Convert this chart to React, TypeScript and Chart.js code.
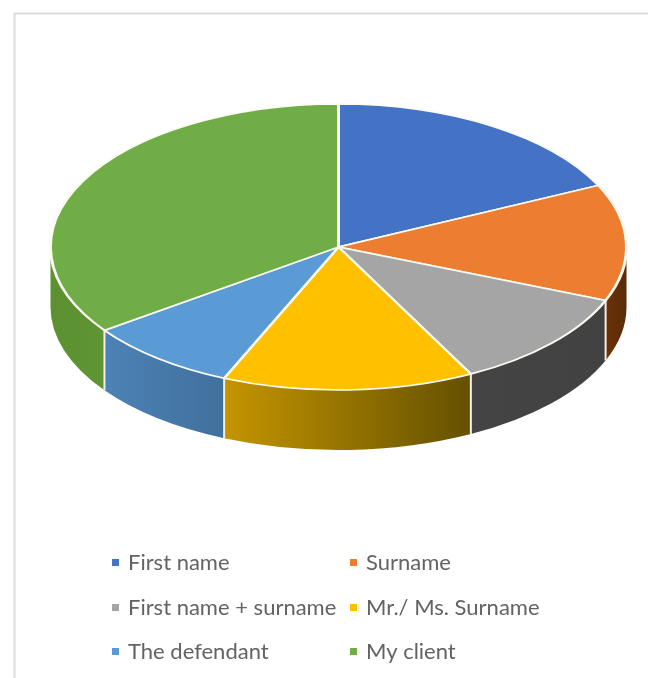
import React, { useEffect, useRef } from "react";
import { Chart, registerables } from "chart.js";

Chart.register(...registerables);

const categories = ["First name", "Surname", "First name + surname", "Mr./ Ms. Surname", "The defendant", "My client"];
const shares = [17.9, 13.2, 11.3, 14.1, 8.6, 34.9];
const topColors = ["#4472C4", "#ED7D31", "#A5A5A5", "#FFC000", "#5B9BD5", "#70AD47"];
const wallLeftColors = ["#2f5597", "#6b3208", "#444444", "#c49500", "#4c82b5", "#5c9030"];
const wallRightColors = ["#2f5597", "#5a2a08", "#424242", "#645000", "#41709c", "#5f9535"];

const CENTER_Y = 247;
const RADIUS_Y = 143;
const DEPTH = 60;

// Tilts the flat pie into an ellipse and gives it a lit rim below the top face.
const tiltedPie = {
  id: "tiltedPie",
  beforeDraw(chart: any) {
    const { ctx, width, height } = chart;
    ctx.save();
    ctx.fillStyle = "#ffffff";
    ctx.fillRect(0, 0, width, height);
    ctx.strokeStyle = "#dcdcdc";
    ctx.lineWidth = 2;
    ctx.beginPath();
    ctx.moveTo(14.5, height);
    ctx.lineTo(14.5, 13.5);
    ctx.lineTo(width, 13.5);
    ctx.stroke();
    ctx.restore();
  },
  beforeDatasetsDraw(chart: any) {
    const { ctx } = chart;
    const arcs = chart.getDatasetMeta(0).data;
    const { x, y, outerRadius } = arcs[0];
    const walls: number[] = [];
    arcs.forEach((arc: any, i: number) => {
      const a0 = Math.max(arc.startAngle, 0);
      const a1 = Math.min(arc.endAngle, Math.PI);
      if (a1 <= a0) return;
      const xa = x + outerRadius * Math.cos(a0);
      const xb = x + outerRadius * Math.cos(a1);
      const shade = ctx.createLinearGradient(xb, 0, xa, 0);
      shade.addColorStop(0, wallLeftColors[i]);
      shade.addColorStop(1, wallRightColors[i]);
      ctx.beginPath();
      ctx.ellipse(x, CENTER_Y, outerRadius, RADIUS_Y, 0, a0, a1);
      ctx.ellipse(x, CENTER_Y + DEPTH, outerRadius, RADIUS_Y, 0, a1, a0, true);
      ctx.closePath();
      ctx.fillStyle = shade;
      ctx.fill();
      if (arc.startAngle > 0) walls.push(arc.startAngle);
    });
    ctx.strokeStyle = "#f3efe6";
    ctx.lineWidth = 2;
    walls.forEach((a) => {
      const px = x + outerRadius * Math.cos(a);
      const py = CENTER_Y + RADIUS_Y * Math.sin(a);
      ctx.beginPath();
      ctx.moveTo(px, py);
      ctx.lineTo(px, py + DEPTH);
      ctx.stroke();
    });
    const k = RADIUS_Y / outerRadius;
    ctx.save();
    ctx.translate(0, CENTER_Y - y * k);
    ctx.scale(1, k);
  },
  afterDatasetsDraw(chart: any) {
    chart.ctx.restore();
  },
  afterDraw(chart: any) {
    const { ctx } = chart;
    const labels: string[] = chart.data.labels;
    const colors: string[] = chart.data.datasets[0].backgroundColor;
    const rows = [563, 608, 652];
    const markers = [112, 350];
    ctx.save();
    ctx.font = '22px Lato, "Open Sans", sans-serif';
    ctx.textBaseline = "middle";
    labels.forEach((label, i) => {
      const mx = markers[i % 2];
      const my = rows[Math.floor(i / 2)];
      ctx.fillStyle = colors[i];
      ctx.fillRect(mx, my - 4, 7, 7);
      ctx.fillStyle = "#636363";
      ctx.fillText(label, mx + 16, my);
    });
    ctx.restore();
  },
};

export default function App() {
  const ref = useRef<HTMLCanvasElement>(null);
  useEffect(() => {
    const chart = new Chart(ref.current!, {
      type: "pie",
      data: {
        labels: categories,
        datasets: [
          {
            data: shares,
            backgroundColor: topColors,
            borderColor: "#fbfaf2",
            borderWidth: 3,
            clip: false,
          } as any,
        ],
      },
      options: {
        responsive: false,
        animation: false,
        layout: { padding: { left: 49, right: 20, top: 50, bottom: 49 } },
        plugins: { legend: { display: false }, tooltip: { enabled: false } },
      },
      plugins: [tiltedPie],
    });
    return () => chart.destroy();
  }, []);
  return (
    <div style={{ position: "fixed", left: 0, top: 0 }}>
      <canvas ref={ref} width={648} height={678} style={{ display: "block" }} />
    </div>
  );
}
